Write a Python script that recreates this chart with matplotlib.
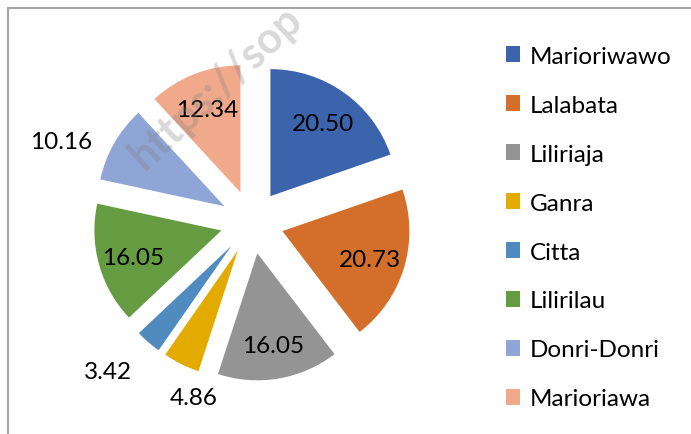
import matplotlib.pyplot as plt
from matplotlib.lines import Line2D
from matplotlib.patches import Patch
import numpy as np

plt.rcParams['font.family'] = ['Lato', 'DejaVu Sans']

# data
regions = ["Marioriwawo", "Lalabata", "Liliriaja", "Ganra",
           "Citta", "Lilirilau", "Donri-Donri", "Marioriawa"]
values = [20.50, 20.73, 16.05, 4.86, 3.42, 16.05, 10.16, 12.34]
colors = ["#3b64ad", "#d46f2b", "#949494", "#e3ab00",
          "#4f8bbf", "#659b41", "#8ea5d6", "#f0a98b"]
outside = [False, False, False, True, True, False, True, False]

W, H = 691, 435
fig = plt.figure(figsize=(W / 100, H / 100), dpi=100)

# pie axes: center at (252, 223) px, radius 127 px
cx, cy, r = 252, 223, 127
half = 200
ax = fig.add_axes([(cx - half) / W, (H - cy - half) / H, 2 * half / W, 2 * half / H])
expl = 0.25
wedges, _ = ax.pie(values, colors=colors, startangle=90, counterclock=False,
                   explode=[expl] * len(values), radius=1,
                   wedgeprops=dict(linewidth=0))
L = half / r
ax.set_xlim(-L, L)
ax.set_ylim(-L, L)
ax.set_aspect('equal')
ax.axis('off')

fs = 17.5
for w, v, out in zip(wedges, values, outside):
    ang = np.deg2rad((w.theta1 + w.theta2) / 2)
    c = w.center
    ca, sa = np.cos(ang), np.sin(ang)
    if out:
        # outside end: text hangs just past the arc
        d = 1.2
        ha = 'right' if ca < -0.5 else 'left'
        va = 'top'
    else:
        d, ha, va = 0.72, 'center', 'center_baseline'
    ax.text(c[0] + d * ca, c[1] + d * sa, "%.2f" % v,
            ha=ha, va=va, fontsize=fs, color='black', clip_on=False)

# legend
handles = [Patch(facecolor=c, edgecolor='none') for c in colors]
fig.legend(handles, regions, loc='upper left', bbox_to_anchor=(496 / W, 1 - 37 / H),
           frameon=False, fontsize=fs, handlelength=0.6, handleheight=0.6,
           handletextpad=0.4, labelspacing=1.15, borderaxespad=0)

# chart border (only left and top visible in the crop)
fig.add_artist(Line2D([8 / W, 8 / W], [0, 1 - 9 / H], transform=fig.transFigure,
                      color='#a6a6a6', lw=1.5))
fig.add_artist(Line2D([8 / W, 1], [1 - 9 / H, 1 - 9 / H], transform=fig.transFigure,
                      color='#a6a6a6', lw=1.5))

# watermark
fig.text(145 / W, 1 - 172 / H, "https://sop", rotation=43, rotation_mode='anchor',
         fontsize=31, fontweight='bold', color='#808080', alpha=0.3,
         ha='left', va='baseline', zorder=10)

fig.savefig("out.png", dpi=100)
